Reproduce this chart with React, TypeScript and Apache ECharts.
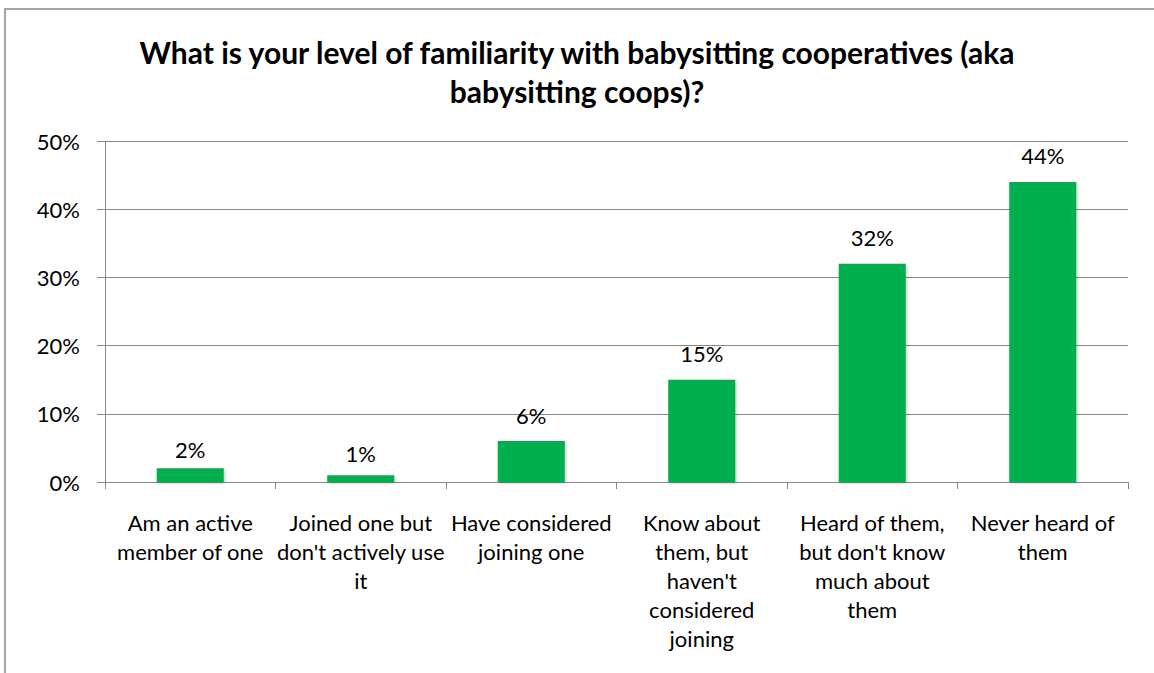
import React, { useEffect, useRef } from "react";
import * as echarts from "echarts";

const TITLE = "What is your level of familiarity with babysitting cooperatives (aka\nbabysitting coops)?";
const categories = [
  "Am an active\nmember of one",
  "Joined one but\ndon't actively use\nit",
  "Have considered\njoining one",
  "Know about\nthem, but\nhaven't\nconsidered\njoining",
  "Heard of them,\nbut don't know\nmuch about\nthem",
  "Never heard of\nthem",
];
const values = [2, 1, 6, 15, 32, 44];
const yMin = 0;
const yMax = 50;
const yInterval = 10;

// label gap above each bar (style only)
const labelDistances = [8, 11, 15, 15, 15, 15];

const FONT = "Lato";
const GRAY = "#878787";

export default function App() {
  const ref = useRef<HTMLDivElement>(null);
  useEffect(() => {
    document.body.style.margin = "0";
    const chart = echarts.init(ref.current!, null, { renderer: "svg" });
    chart.setOption({
      animation: false,
      backgroundColor: "#ffffff",
      title: {
        text: TITLE,
        left: "center",
        top: 27,
        textStyle: {
          fontFamily: FONT,
          fontSize: 30,
          fontWeight: "bold",
          color: "#000",
          lineHeight: 39,
        },
      },
      graphic: [
        {
          type: "rect",
          shape: { x: 5, y: 9, width: 1300, height: 800 },
          style: { fill: "none", stroke: GRAY, lineWidth: 1.5 },
          silent: true,
          z: -1,
        },
      ],
      grid: { left: 105, right: 26, top: 141, bottom: 191, containLabel: false },
      xAxis: {
        type: "category",
        data: categories,
        axisLine: { show: true, lineStyle: { color: GRAY, width: 1 } },
        axisTick: { show: true, alignWithLabel: false, length: 7, lineStyle: { color: GRAY } },
        axisLabel: {
          interval: 0,
          margin: 26,
          fontFamily: FONT,
          fontSize: 22,
          lineHeight: 29,
          color: "#000",
          align: "center",
        },
      },
      yAxis: {
        type: "value",
        min: yMin,
        max: yMax,
        interval: yInterval,
        axisLine: { show: true, lineStyle: { color: GRAY, width: 1 } },
        axisTick: { show: true, length: 8, lineStyle: { color: GRAY } },
        splitLine: { show: true, lineStyle: { color: GRAY, width: 1 } },
        axisLabel: {
          formatter: "{value}%",
          margin: 25,
          fontFamily: FONT,
          fontSize: 22,
          color: "#000",
        },
      },
      series: [
        {
          type: "bar",
          data: values.map((v, i) => ({ value: v, label: { distance: labelDistances[i] } })),
          barWidth: 67,
          itemStyle: {
            color: "#00B050",
            shadowColor: "rgba(0,0,0,0.25)",
            shadowBlur: 3,
            shadowOffsetX: 1,
            shadowOffsetY: 1,
          },
          label: {
            show: true,
            position: "top",
            formatter: "{c}%",
            fontFamily: FONT,
            fontSize: 22,
            color: "#000",
          },
        },
      ],
    });
    return () => chart.dispose();
  }, []);
  return <div ref={ref} style={{ width: 1154, height: 673 }} />;
}
